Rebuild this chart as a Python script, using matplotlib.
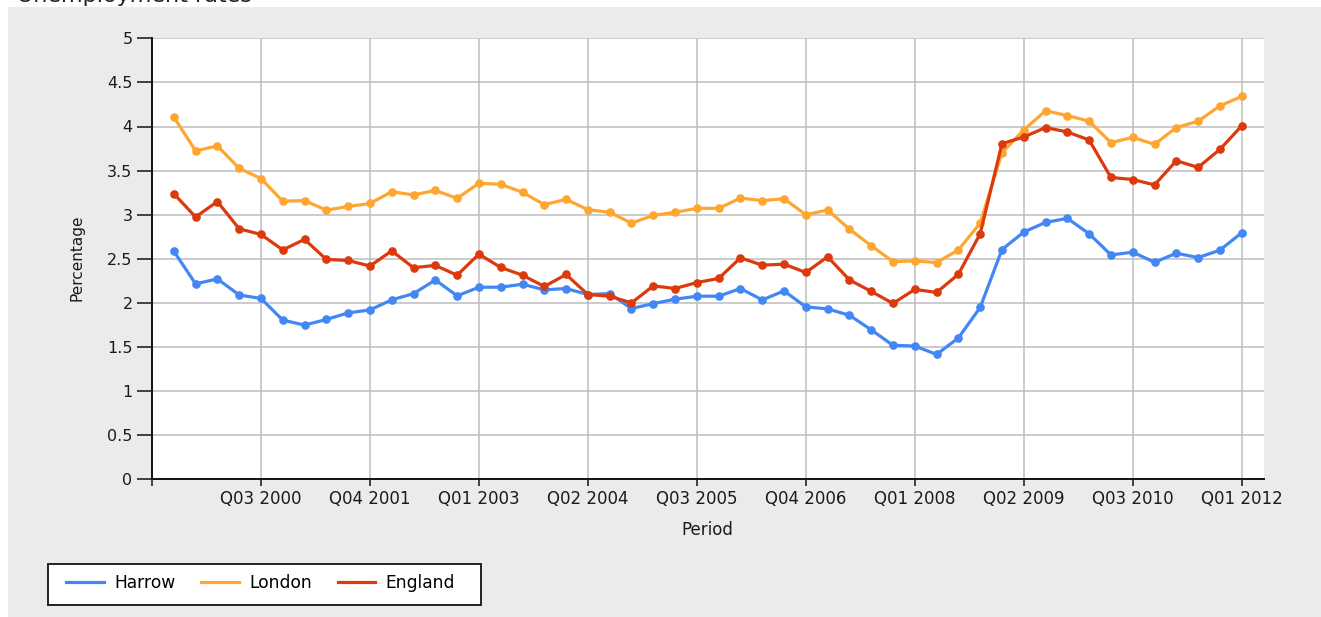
import matplotlib
matplotlib.use("Agg")
import matplotlib.pyplot as plt
from matplotlib.lines import Line2D
from matplotlib.patches import Rectangle

# ---------------- data ----------------
harrow = [2.586, 2.216, 2.272, 2.09, 2.05, 1.805, 1.748, 1.812, 1.887, 1.92,
          2.035, 2.105, 2.26, 2.08, 2.178, 2.178, 2.212, 2.148, 2.163, 2.095,
          2.106, 1.936, 1.992, 2.042, 2.076, 2.076, 2.163, 2.034, 2.136, 1.955,
          1.932, 1.860, 1.695, 1.519, 1.511, 1.416, 1.603, 1.948, 2.605, 2.803,
          2.913, 2.958, 2.784, 2.544, 2.575, 2.461, 2.563, 2.514, 2.598, 2.795]
london = [4.108, 3.724, 3.78, 3.526, 3.41, 3.153, 3.16, 3.052, 3.093, 3.127,
          3.261, 3.224, 3.275, 3.186, 3.356, 3.345, 3.254, 3.114, 3.174, 3.057,
          3.027, 2.905, 2.992, 3.027, 3.072, 3.072, 3.189, 3.159, 3.182, 3.0,
          3.053, 2.837, 2.648, 2.468, 2.476, 2.457, 2.601, 2.905, 3.703, 3.961,
          4.178, 4.124, 4.06, 3.817, 3.877, 3.798, 3.988, 4.06, 4.234, 4.341]
england = [3.239, 2.974, 3.149, 2.84, 2.776, 2.601, 2.72, 2.493, 2.481, 2.418,
           2.59, 2.399, 2.425, 2.314, 2.553, 2.402, 2.314, 2.186, 2.322, 2.095,
           2.076, 2.0, 2.193, 2.163, 2.231, 2.277, 2.511, 2.428, 2.439, 2.345,
           2.523, 2.261, 2.13, 1.994, 2.153, 2.119, 2.324, 2.784, 3.805, 3.881,
           3.988, 3.938, 3.847, 3.422, 3.399, 3.338, 3.612, 3.536, 3.741, 4.007]
series_names = ["Harrow", "London", "England"]
tick_labels = ["Q03 2000", "Q04 2001", "Q01 2003", "Q02 2004", "Q03 2005",
               "Q04 2006", "Q01 2008", "Q02 2009", "Q03 2010", "Q01 2012"]
y_ticks = [0, 0.5, 1, 1.5, 2, 2.5, 3, 3.5, 4, 4.5, 5]

colors = ["#4287f5", "#ffa630", "#dc3a0c"]

# ---------------- figure ----------------
W, H = 1321, 617
fig = plt.figure(figsize=(W / 100, H / 100), dpi=100, facecolor="white")

# grey panel (behind everything)
fig.patches.append(Rectangle((8 / W, 0), 1 - 8 / W, 1 - 7 / H,
                             transform=fig.transFigure, facecolor="#ebebeb",
                             edgecolor="none", zorder=-10))

# title (cut at the top, as in the reference)
fig.text(17 / W, 1 - 1.5 / H, "Unemployment rates", fontsize=16,
         ha="left", va="baseline", color="#222222", zorder=-5)

left, right, top, bottom = 152, 1263.5, 38.3, 479.3
ax = fig.add_axes([left / W, 1 - bottom / H, (right - left) / W, (bottom - top) / H])
ax.set_zorder(1)
ax.set_facecolor("white")

x = list(range(len(harrow)))
for vals, c, name in zip([harrow, london, england], colors, series_names):
    ax.plot(x, vals, color=c, lw=2.3, marker="o", ms=5.2, mec=c, mfc=c,
            label=name, zorder=3, solid_joinstyle="round")

ax.set_xlim(-1, 50)
ax.set_ylim(0, 5)

tick_pos = list(range(4, 50, 5))
ax.set_xticks([-1] + tick_pos)
ax.set_xticklabels([""] + tick_labels, fontsize=12, color="#1a1a1a")
ax.set_yticks(y_ticks)
ax.set_yticklabels([("%g" % v) for v in y_ticks], fontsize=11.5, color="#1a1a1a")

ax.tick_params(axis="x", direction="out", length=5, width=1.2, pad=3, color="#222222")
ax.tick_params(axis="y", direction="out", length=10.5, width=1.2, pad=3.5, color="#222222")

ax.grid(True, color="#bdbdbd", lw=1.1, zorder=1)
ax.set_axisbelow(True)

for s in ["top", "right"]:
    ax.spines[s].set_visible(False)
for s in ["left", "bottom"]:
    ax.spines[s].set_color("#111111")
    ax.spines[s].set_linewidth(1.4)

ax.set_xlabel("Period", fontsize=12, va="center", color="#1a1a1a")
ax.xaxis.set_label_coords(0.5, (bottom - 530) / (bottom - top))
ax.set_ylabel("Percentage", fontsize=11, va="center", color="#1a1a1a")
ax.yaxis.set_label_coords((76.7 - left) / (right - left), (bottom - 257.5) / (bottom - top))

# legend frame
fig.patches.append(Rectangle((48.3 / W, 1 - 605 / H), (481 - 48.3) / W, (605 - 564.3) / H,
                             transform=fig.transFigure, facecolor="white",
                             edgecolor="#222222", lw=1.4, zorder=2))
handles = [Line2D([], [], color=c, lw=2.3) for c in colors]
leg = fig.legend(handles, series_names, loc="center left",
                 bbox_to_anchor=(66 / W, 1 - 583 / H), bbox_transform=fig.transFigure,
                 ncol=3, frameon=False, fontsize=12.3, borderpad=0, borderaxespad=0,
                 handlelength=2.2, handletextpad=0.62, columnspacing=1.5)
leg.set_zorder(3)

fig.savefig("out.png", dpi=100, facecolor="white")
